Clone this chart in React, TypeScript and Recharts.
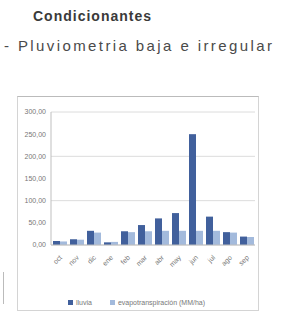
import React from 'react';
import { BarChart, Bar, XAxis, YAxis, CartesianGrid, Legend } from 'recharts';

const months = ['oct', 'nov', 'dic', 'ene', 'feb', 'mar', 'abr', 'may', 'jun', 'jul', 'ago', 'sep'];
const lluvia = [9, 13, 32, 6, 31, 45, 60, 72, 250, 64, 29, 19];
const evapo = [8, 12, 28, 7, 29, 31, 32, 32, 32, 32, 28, 18];
const yTicks = [0, 50, 100, 150, 200, 250, 300];
const legendNames = ['lluvia', 'evapotranspiración (MM/ha)'];

const data = months.map((m, i) => ({ month: m, lluvia: lluvia[i], evapo: evapo[i] }));

const DARK = '#41609c';
const LIGHT = '#a3badc';
const fmt = (v: number) => v.toFixed(2).replace('.', ',');

const MonthTick = (props: any) => {
  const { x, y, payload } = props;
  return (
    <g transform={`translate(${x + 3},${y + 5})`}>
      <text textAnchor="end" fontSize={7} fill="#777" transform="rotate(-45)">
        {payload.value}
      </text>
    </g>
  );
};

const LegendBox = () => (
  <div style={{ display: 'flex', justifyContent: 'center', alignItems: 'center', height: 16, fontSize: 7, color: '#777', gap: 18 }}>
    {legendNames.map((n, i) => (
      <span key={n} style={{ display: 'flex', alignItems: 'center', gap: 3 }}>
        <span style={{ width: 5, height: 5, background: i === 0 ? DARK : LIGHT, display: 'inline-block' }} />
        {n}
      </span>
    ))}
  </div>
);

export default function App() {
  return (
    <div style={{ position: 'absolute', left: 0, top: 0, width: 293, height: 314, background: '#fff', fontFamily: '"Liberation Sans", Arial, sans-serif', overflow: 'hidden' }}>
      <div style={{ position: 'absolute', left: 33, top: 8, fontSize: 14, fontWeight: 'bold', color: '#3a3a3a', letterSpacing: 1, whiteSpace: 'nowrap' }}>
        Condicionantes
      </div>
      <div style={{ position: 'absolute', left: 4, top: 37, fontSize: 15, color: '#4a4a4a', letterSpacing: 2.4, whiteSpace: 'nowrap' }}>
        - Pluviometria baja e irregular
      </div>
      <div style={{ position: 'absolute', left: 3, top: 272, width: 1, height: 32, background: '#bbb' }} />
      <div style={{ position: 'absolute', left: 17, top: 96, width: 240, height: 213, border: '1px solid #d4d4d4', borderTop: '1px solid #bbb' }}>
        <BarChart
          width={240}
          height={213}
          data={data}
          margin={{ top: 15, right: 3, bottom: 0, left: 0 }}
          barGap={0}
          barCategoryGap={2}
        >
          <CartesianGrid vertical={false} stroke="#dcdcdc" />
          <XAxis
            dataKey="month"
            interval={0}
            height={49}
            tick={<MonthTick />}
            tickLine={false}
            axisLine={{ stroke: '#bfbfbf' }}
          />
          <YAxis
            domain={[0, 300]}
            ticks={yTicks}
            width={33}
            tickSize={0}
            tickMargin={5}
            tickFormatter={fmt}
            tick={{ fontSize: 7, fill: '#777' }}
            axisLine={{ stroke: '#bfbfbf' }}
            tickLine={false}
          />
          <Legend verticalAlign="bottom" content={<LegendBox />} wrapperStyle={{ height: 16 }} />
          <Bar dataKey="lluvia" name={legendNames[0]} fill={DARK} barSize={7} isAnimationActive={false} />
          <Bar dataKey="evapo" name={legendNames[1]} fill={LIGHT} barSize={7} isAnimationActive={false} />
        </BarChart>
      </div>
    </div>
  );
}
